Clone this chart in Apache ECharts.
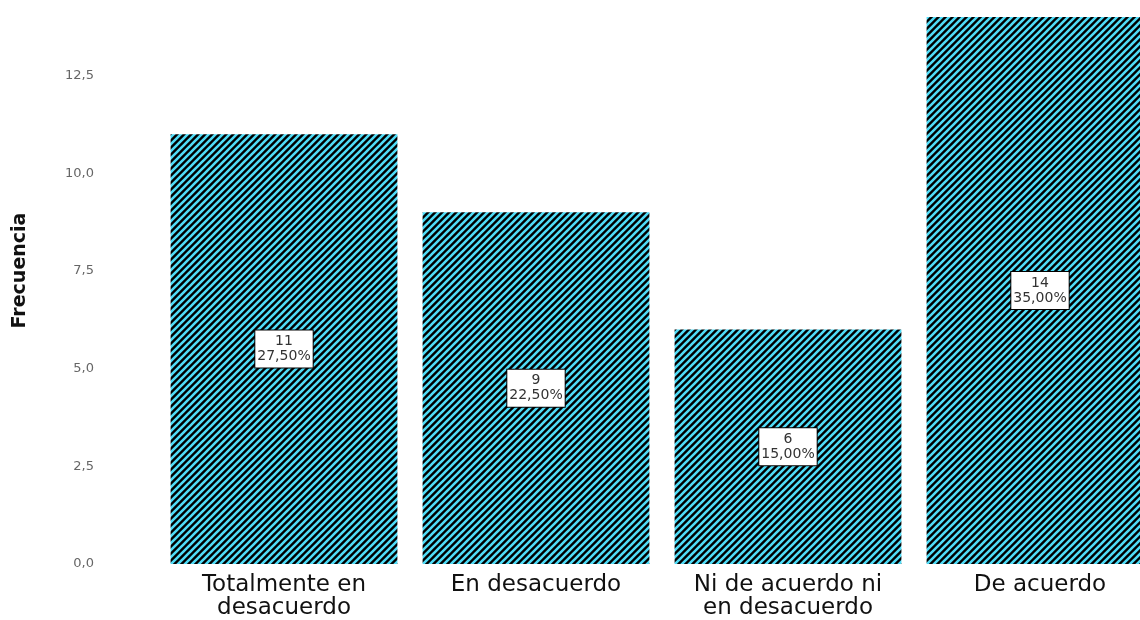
<!DOCTYPE html>
<html style="height: 100%">
<head>
<meta charset="utf-8">
</head>
<body style="height: 100%; margin: 0; background: #fff; overflow: hidden">
<!-- last bar is cut by the right edge in the original, so the chart is wider than the window -->
<div id="container" style="width: 1166px; height: 620px"></div>
<script type="text/javascript" src="https://cdn.jsdelivr.net/npm/echarts@6/dist/echarts.min.js"></script>
<script type="text/javascript">
var categories = ['Totalmente en\ndesacuerdo', 'En desacuerdo', 'Ni de acuerdo ni\nen desacuerdo', 'De acuerdo'];
var counts = [11, 9, 6, 14];
var percents = ['27,50%', '22,50%', '15,00%', '35,00%'];

// diagonal hatch: cyan lines on black
function makeHatch() {
    var s = 7;
    var c = document.createElement('canvas');
    c.width = s; c.height = s;
    var ctx = c.getContext('2d');
    ctx.fillStyle = '#000';
    ctx.fillRect(0, 0, s, s);
    ctx.strokeStyle = '#4fdcf7';
    ctx.lineWidth = 2.6;
    ctx.beginPath();
    ctx.moveTo(-1, s + 1); ctx.lineTo(s + 1, -1);
    ctx.moveTo(-1, 1); ctx.lineTo(1, -1);
    ctx.moveTo(s - 1, s + 1); ctx.lineTo(s + 1, s - 1);
    ctx.stroke();
    return c;
}

var myChart = echarts.init(document.getElementById('container'));
var option = {
    backgroundColor: '#fff',
    animation: false,
    grid: {
        left: 158,
        right: 0,
        top: 17,
        bottom: 55
    },
    xAxis: {
        type: 'category',
        data: categories,
        axisLine: {show: false},
        axisTick: {show: false},
        axisLabel: {
            interval: 0,
            margin: 10,
            color: '#111',
            fontFamily: 'DejaVu Sans',
            fontSize: 23,
            lineHeight: 23
        }
    },
    yAxis: {
        type: 'value',
        min: 0,
        max: 14,
        interval: 2.5,
        name: 'Frecuencia',
        nameLocation: 'middle',
        nameGap: 128,
        nameTextStyle: {
            color: '#111',
            fontFamily: 'DejaVu Sans',
            fontSize: 19,
            fontWeight: 'bold',
            padding: [0, 0, 0, 40]
        },
        splitLine: {show: false},
        axisLine: {show: false},
        axisTick: {show: false},
        axisLabel: {
            showMaxLabel: false,
            margin: 64,
            color: '#666',
            fontFamily: 'DejaVu Sans',
            fontSize: 13,
            formatter: function (v) { return v.toFixed(1).replace('.', ','); }
        }
    },
    series: [{
        type: 'bar',
        data: counts,
        barCategoryGap: '10%',
        itemStyle: {
            color: {image: makeHatch(), repeat: 'repeat'}
        },
        label: {
            show: true,
            position: 'inside',
            formatter: function (p) { return counts[p.dataIndex] + '\n' + percents[p.dataIndex]; },
            backgroundColor: '#fff',
            borderColor: '#000',
            borderWidth: 1,
            padding: [4, 2, 3, 2],
            color: '#333',
            fontFamily: 'DejaVu Sans',
            fontSize: 14,
            lineHeight: 15
        }
    }]
};
myChart.setOption(option);
</script>
</body>
</html>
